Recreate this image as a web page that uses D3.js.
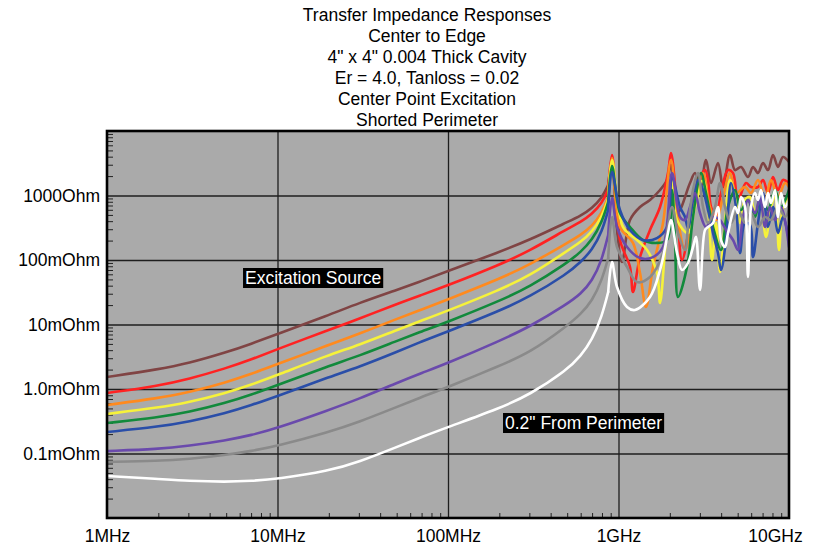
<!DOCTYPE html>
<html lang="en">
<head>
    <meta charset="UTF-8">
    <title>Transfer Impedance Responses</title>
    <script src="https://cdn.jsdelivr.net/npm/d3@7"></script>
    <style>
        body { margin: 0; background: #fff; }
        svg { display: block; }
        text { font-family: "Liberation Sans", Arial, Helvetica, sans-serif; }
    </style>
</head>
<body>
<div id="chart"></div>
<script>

    // title lines
    const titleLines = ["Transfer Impedance Responses", "Center to Edge", "4\" x 4\" 0.004 Thick Cavity",
        "Er = 4.0, Tanloss = 0.02", "Center Point Excitation", "Shorted Perimeter"]

    // axis ticks (x in MHz, y in mOhm)
    const xTicks = [1, 10, 100, 1000, 10000]
    const xTickLabels = ["1MHz", "10MHz", "100MHz", "1GHz", "10GHz"]
    const yTicks = [1000, 100, 10, 1, 0.1]
    const yTickLabels = ["1000Ohm", "100mOhm", "10mOhm", "1.0mOhm", "0.1mOhm"]

    // low frequency part, shared frequency grid (MHz) -> impedance (mOhm)
    const freqLow = [1, 2, 3, 5, 7, 10, 20, 30, 50, 70, 100, 200, 300, 500, 600, 700, 800, 870]
    const brownLow = [1.53, 2.02, 2.5, 3.7, 5.0, 7.13, 14, 21.5, 34.3, 47.2, 67.5, 133, 204, 388, 482, 640, 915, 1455]
    const redLow = [0.867, 1.12, 1.42, 2.1, 2.85, 4.17, 8.22, 12.2, 20.8, 28.7, 40.5, 84, 138, 303, 388, 517, 765, 1217]
    const orangeLow = [0.565, 0.72, 0.88, 1.27, 1.70, 2.44, 4.81, 7.13, 12.2, 17.0, 24.5, 50.7, 84, 184, 244, 337, 535, 948]
    const yellowLow = [0.410, 0.515, 0.62, 0.87, 1.16, 1.65, 3.37, 4.81, 8.22, 11.5, 16.4, 34.3, 56.5, 138, 190, 272, 465, 883]
    const greenLow = [0.297, 0.362, 0.435, 0.61, 0.81, 1.15, 2.28, 3.25, 5.55, 7.8, 11.0, 23.1, 38.1, 90, 133, 204, 388, 795]
    const blueLow = [0.215, 0.26, 0.31, 0.425, 0.56, 0.778, 1.53, 2.19, 3.75, 5.45, 7.8, 16.2, 26.7, 61, 93, 143, 272, 596]
    const purpleLow = [0.109, 0.117, 0.131, 0.160, 0.192, 0.248, 0.472, 0.700, 1.24, 1.77, 2.53, 5.55, 9.15, 20.8, 29.7, 47.2, 100, 244]
    const grayLow = [0.0739, 0.0766, 0.082, 0.095, 0.109, 0.131, 0.215, 0.308, 0.526, 0.751, 1.07, 2.28, 3.61, 9.5, 14.5, 23.1, 49, 107]
    const whiteLow = [0.0448, 0.0403, 0.0375, 0.0362, 0.0375, 0.0403, 0.0535, 0.0739, 0.126, 0.180, 0.257, 0.50, 0.81, 1.97, 3.25, 5.75, 13.5, 31.9]

    // resonance region, [MHz, mOhm] read per curve
    const brownHigh = [[916, 3300], [980, 292], [1048, 93], [1168, 417], [1337, 664], [1530, 851], [1752, 1217],
        [1925, 1740], [2032, 2970], [2234, 555], [2626, 1560], [2810, 2230], [3006, 1217], [3260, 3550], [3488, 1560],
        [3833, 3190], [4102, 1355], [4508, 4250], [4824, 2480], [5230, 2770], [5747, 1940], [6150, 2770], [6579, 2230],
        [7039, 3190], [7530, 2480], [8058, 4250], [8620, 2770], [9222, 3950], [10000, 3300]]
    const redHigh = [[916, 4250], [1020, 204], [1168, 78], [1216, 31.9], [1337, 111], [1530, 292], [1752, 664],
        [1951, 2230], [2032, 4560], [2204, 664], [2358, 100], [2626, 375], [2810, 1094], [3217, 2480], [3349, 1740],
        [3488, 664], [3731, 465], [3992, 1094], [4387, 2480], [4695, 2230], [5022, 851], [5595, 1560], [5986, 1355],
        [6579, 1355], [7039, 1740], [7530, 1094], [8058, 1940], [8620, 1217], [9222, 1740], [10000, 1560]]
    const orangeHigh = [[916, 3810], [1020, 325], [1216, 184], [1337, 63], [1450, 18.7], [1594, 78], [1824, 375],
        [2032, 3550], [2204, 535], [2455, 143], [2810, 851], [3131, 2230], [3440, 664], [3731, 417], [4102, 948],
        [4508, 2230], [4889, 1094], [5520, 1355], [5986, 1094], [6579, 1740], [7232, 851], [7843, 1740], [8620, 948],
        [9474, 1560], [10000, 1355]]
    const yellowHigh = [[916, 3550], [1063, 325], [1284, 204], [1470, 143], [1682, 63], [1752, 21.5], [1874, 143],
        [2005, 1217], [2032, 1940], [2204, 417], [2556, 262], [2810, 664], [3131, 1740], [3349, 664], [3534, 100],
        [3731, 375], [3938, 65], [4213, 375], [4508, 1740], [4824, 948], [5159, 375], [5520, 851], [5906, 948],
        [6318, 535], [6760, 851], [7331, 228], [7843, 664], [8279, 948], [8737, 143], [9222, 664], [10000, 948]]
    const greenHigh = [[916, 2870], [1020, 535], [1168, 325], [1392, 204], [1682, 184], [1925, 204], [2060, 1217],
        [2145, 204], [2234, 26.7], [2522, 78], [2735, 465], [3047, 2230], [3260, 1094], [3584, 325], [3992, 143],
        [4387, 664], [4824, 1217], [5230, 596], [5747, 851], [6318, 465], [6852, 1094], [7530, 596], [8279, 1217],
        [8978, 664], [10000, 1217]]
    const blueHigh = [[916, 2310], [1020, 596], [1168, 292], [1392, 204], [1682, 219], [1925, 325], [2060, 1940],
        [2295, 664], [2455, 465], [2556, 310], [2735, 851], [2926, 1740], [3131, 1217], [3349, 596], [3584, 262],
        [3833, 128], [3992, 70], [4271, 204], [4569, 1560], [4889, 664], [5159, 128], [5520, 375], [5906, 349],
        [6150, 111], [6579, 375], [7039, 1094], [7530, 325], [8058, 664], [8620, 262], [9222, 465], [10000, 204]]
    const purpleHigh = [[916, 915], [980, 325], [1122, 159], [1337, 107], [1594, 111], [1824, 159], [2060, 2230],
        [2295, 465], [2455, 417], [2626, 664], [2810, 1094], [3006, 535], [3260, 325], [3584, 465], [3938, 417],
        [4271, 292], [4695, 204], [5022, 143], [5373, 465], [5747, 851], [6318, 535], [6760, 948], [7232, 325],
        [7738, 664], [8279, 417], [8978, 664], [10000, 159]]
    const grayHigh = [[916, 465], [980, 159], [1122, 78], [1284, 45.6], [1530, 54.5], [1824, 128], [2060, 664],
        [2234, 262], [2455, 143], [2556, 325], [2735, 1217], [2926, 2230], [3131, 664], [3349, 375], [3681, 664],
        [3938, 1560], [4213, 664], [4569, 375], [5022, 596], [5520, 375], [5986, 535], [6579, 325], [7232, 465],
        [7843, 417], [8620, 664], [9474, 465], [10000, 596]]
    const whiteHigh = [[916, 93], [980, 38.1], [1122, 18.7], [1250, 16.8], [1530, 26.7], [1752, 70], [1951, 262],
        [2032, 417], [2204, 128], [2358, 70], [2556, 90], [2735, 159], [2848, 228], [3006, 34.3], [3217, 292],
        [3349, 325], [3584, 375], [3833, 664], [3992, 204], [4213, 159], [4387, 262], [4824, 664], [5022, 535],
        [5230, 948], [5520, 664], [5747, 54.5], [5986, 664], [6318, 1094], [6579, 851], [6852, 1217], [7232, 664],
        [7530, 1094], [7843, 765], [8279, 1217], [8620, 465], [8978, 1094], [9474, 664], [10000, 851]]

    // annotations [MHz, mOhm] at the left edge of the text
    const notes = [
        {text: "Excitation Source", f: 6.45, z: 52.6},
        {text: "0.2\" From Perimeter", f: 216, z: 0.297}
    ]

    const series = [
        {low: brownLow, high: brownHigh, color: "#804444"},
        {low: redLow, high: redHigh, color: "#ff2222"},
        {low: orangeLow, high: orangeHigh, color: "#ff8a1e"},
        {low: yellowLow, high: yellowHigh, color: "#f6f23a"},
        {low: greenLow, high: greenHigh, color: "#128a3c"},
        {low: blueLow, high: blueHigh, color: "#2a4ea8"},
        {low: purpleLow, high: purpleHigh, color: "#6a4aac"},
        {low: grayLow, high: grayHigh, color: "#8a8a8a"},
        {low: whiteLow, high: whiteHigh, color: "#ffffff"}
    ]

    const svgSize = {width: 824, height: 548}
    const margins = {top: 131, right: 35, bottom: 30, left: 107}
    const innerW = svgSize.width - margins.left - margins.right
    const innerH = svgSize.height - margins.top - margins.bottom

    const svg = d3.select("#chart").append("svg")
        .attr("width", svgSize.width)
        .attr("height", svgSize.height)
        .attr("viewBox", [0, 0, svgSize.width, svgSize.height])

    // title
    svg.append("g").selectAll("text")
        .data(titleLines)
        .enter()
        .append("text")
        .attr("x", 427)
        .attr("y", (d, i) => 20.5 + i * 21.1)
        .attr("text-anchor", "middle")
        .attr("font-size", "17.5px")
        .attr("fill", "#000")
        .text(d => d)

    const x = d3.scaleLog().domain([1, 10000]).range([margins.left, margins.left + innerW])
    const y = d3.scaleLog().domain([0.01, 10000]).range([margins.top + innerH, margins.top])

    svg.append("rect")
        .attr("x", margins.left).attr("y", margins.top)
        .attr("width", innerW).attr("height", innerH)
        .attr("fill", "#aaaaaa")

    // minor ticks: 2..9 in every decade
    const minorX = []
    for (let e = 0; e < 4; e++) for (let k = 2; k < 10; k++) minorX.push(k * Math.pow(10, e))
    const minorY = []
    for (let e = -2; e < 4; e++) for (let k = 2; k < 10; k++) minorY.push(+(k * Math.pow(10, e)).toPrecision(3))

    // grid lines
    svg.append("g")
        .attr("transform", `translate(0,${margins.top + innerH})`)
        .call(d3.axisBottom(x).tickValues([10, 100, 1000]).tickSize(-innerH).tickFormat(""))
        .call(g => g.select(".domain").remove())
        .call(g => g.selectAll("line").attr("stroke", "#1e1e1e").attr("stroke-width", 1.3))
    svg.append("g")
        .attr("transform", `translate(${margins.left},0)`)
        .call(d3.axisLeft(y).tickValues([1000, 100, 10, 1, 0.1]).tickSize(-innerW).tickFormat(""))
        .call(g => g.select(".domain").remove())
        .call(g => g.selectAll("line").attr("stroke", "#1e1e1e").attr("stroke-width", 1.3))

    // minor ticks inside the plot
    svg.append("g")
        .attr("transform", `translate(0,${margins.top + innerH})`)
        .call(d3.axisBottom(x).tickValues(minorX).tickSize(-5).tickFormat(""))
        .call(g => g.select(".domain").remove())
        .call(g => g.selectAll("line").attr("stroke", "#222").attr("stroke-width", 1))
    svg.append("g")
        .attr("transform", `translate(${margins.left},0)`)
        .call(d3.axisLeft(y).tickValues(minorY).tickSize(-6).tickFormat(""))
        .call(g => g.select(".domain").remove())
        .call(g => g.selectAll("line").attr("stroke", "#222").attr("stroke-width", 1))

    // curves
    svg.append("clipPath").attr("id", "plotClip")
        .append("rect")
        .attr("x", margins.left).attr("y", margins.top)
        .attr("width", innerW).attr("height", innerH)

    // smooth rise below resonance, sharp peaks above
    const lowLine = d3.line()
        .x(d => x(d[0]))
        .y(d => y(d[1]))
        .curve(d3.curveBasis)
    const highLine = d3.line()
        .x(d => x(d[0]))
        .y(d => y(d[1]))
        .curve(d3.curveCatmullRom.alpha(0.5))

    const curveG = svg.append("g").attr("clip-path", "url(#plotClip)")
    series.forEach(s => {
        const lowPts = freqLow.map((f, i) => [f, s.low[i]])
        const g = curveG.append("g")
            .attr("fill", "none")
            .attr("stroke", s.color)
            .attr("stroke-width", 2.6)
            .attr("stroke-linejoin", "round")
            .attr("stroke-linecap", "round")
        g.append("path").attr("d", lowLine(lowPts))
        g.append("path").attr("d", highLine([lowPts[lowPts.length - 1]].concat(s.high)))
    })

    // annotations
    const noteG = svg.append("g")
    notes.forEach(n => {
        const t = noteG.append("text")
            .attr("x", x(n.f))
            .attr("y", y(n.z))
            .attr("dy", "0.36em")
            .attr("font-size", "17.5px")
            .attr("fill", "#fff")
            .text(n.text)
        const bb = t.node().getBBox()
        noteG.insert("rect", "text")
            .attr("x", bb.x - 2).attr("y", y(n.z) - 10)
            .attr("width", bb.width + 4).attr("height", 20)
            .attr("fill", "#000")
    })

    // frame
    svg.append("rect")
        .attr("x", margins.left).attr("y", margins.top)
        .attr("width", innerW).attr("height", innerH)
        .attr("fill", "none")
        .attr("stroke", "#000")
        .attr("stroke-width", 2.6)

    // tick labels
    svg.append("g")
        .attr("transform", `translate(0,${margins.top + innerH})`)
        .call(d3.axisBottom(x).tickValues(xTicks).tickSize(0).tickPadding(12)
            .tickFormat((d, i) => xTickLabels[i]))
        .call(g => g.select(".domain").remove())
        .call(g => g.selectAll("text").attr("font-size", "17.5px").attr("fill", "#000")
            .attr("font-family", "Liberation Sans, Arial, sans-serif")
            .attr("dx", (d, i) => i === xTicks.length - 1 ? -14 : 0))
    svg.append("g")
        .attr("transform", `translate(${margins.left},0)`)
        .call(d3.axisLeft(y).tickValues(yTicks).tickSize(0).tickPadding(7)
            .tickFormat((d, i) => yTickLabels[i]))
        .call(g => g.select(".domain").remove())
        .call(g => g.selectAll("text").attr("font-size", "17.5px").attr("fill", "#000")
            .attr("font-family", "Liberation Sans, Arial, sans-serif"))

</script>
</body>
</html>
